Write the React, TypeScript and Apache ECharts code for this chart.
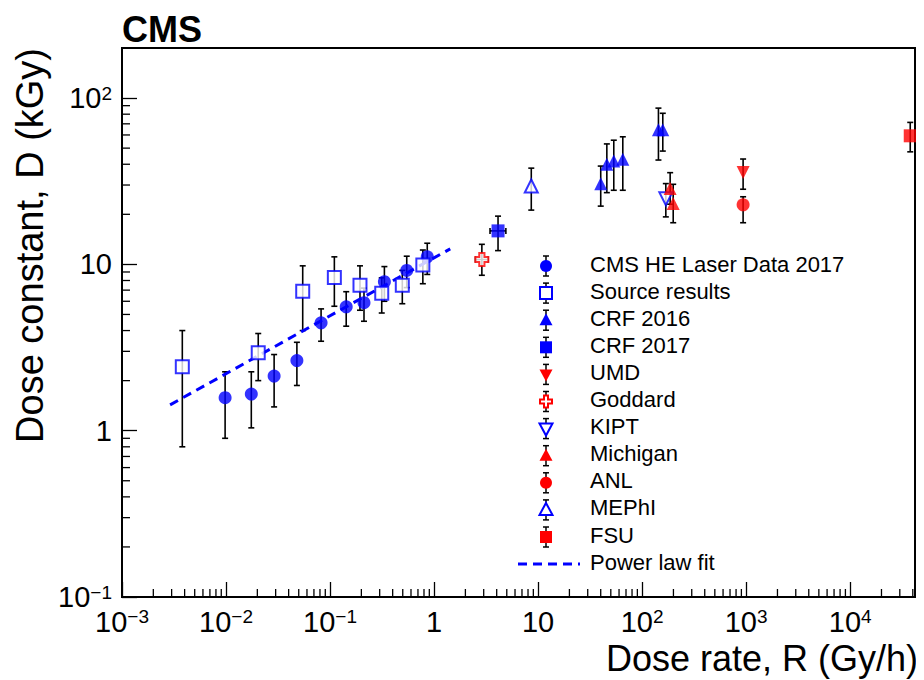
import React, { useEffect, useRef } from 'react';
import * as echarts from 'echarts';

// [rate, D, Dlo, Dhi, Rlo, Rhi]  (Rlo/Rhi missing => no x error)
const cmsHE = [
  [0.0098, 1.58, 0.9, 2.26], [0.0175, 1.66, 1.04, 2.26], [0.029, 2.13, 1.39, 2.87],
  [0.048, 2.64, 1.87, 3.4], [0.082, 4.45, 3.45, 5.4], [0.143, 5.56, 4.25, 6.85],
  [0.212, 5.88, 4.55, 7.2], [0.333, 7.87, 6.0, 9.7], [0.546, 9.2, 7.25, 11.2],
  [0.86, 11.1, 8.7, 13.4],
];
const source = [
  [0.0038, 2.42, 0.8, 4.0], [0.0204, 2.94, 2.0, 3.84], [0.0546, 6.9, 4.0, 9.8],
  [0.11, 8.35, 5.6, 11.1], [0.194, 7.5, 5.3, 9.8], [0.314, 6.7, 5.1, 8.3],
  [0.495, 7.5, 5.8, 9.2], [0.78, 9.9, 7.65, 12.2],
];
const crf2016 = [
  [40, 30.5, 22.4, 39], [45.8, 40, 27, 53], [53.4, 41.9, 27.9, 55.8],
  [65.2, 42.9, 27.9, 58.5], [143.5, 64.4, 42.4, 87], [158, 64.4, 48, 81],
];
const crf2017 = [[4.12, 15.9, 12.1, 19.5, 3.45, 4.9]];
const umd = [[935, 35.7, 28.3, 43]];
const goddard = [[2.88, 10.7, 8.6, 13.2, 2.5, 3.3]];
const kipt = [[169, 24.8, 19.3, 30.6]];
const michigan = [[186, 28.6, 23, 35.6], [199, 23.2, 17.8, 30.3]];
const anl = [[935, 22.8, 17.8, 25.5]];
const mephi = [[8.6, 29.6, 21.2, 37.9]];
const fsu = [[37800, 59.3, 47.5, 71.4]];
const fitLine = [[0.0029, 1.43], [1.43, 12.4]];

const xMinor = [
  0.002, 0.003, 0.004, 0.005, 0.006, 0.007, 0.008, 0.009,
  0.02, 0.03, 0.04, 0.05, 0.06, 0.07, 0.08, 0.09,
  0.2, 0.3, 0.4, 0.5, 0.6, 0.7, 0.8, 0.9,
  2, 3, 4, 5, 6, 7, 8, 9, 20, 30, 40, 50, 60, 70, 80, 90,
  200, 300, 400, 500, 600, 700, 800, 900, 2000, 3000, 4000, 5000, 6000, 7000, 8000, 9000,
  20000, 30000, 40000,
];
const yMinor = [
  0.2, 0.3, 0.4, 0.5, 0.6, 0.7, 0.8, 0.9, 2, 3, 4, 5, 6, 7, 8, 9,
  20, 30, 40, 50, 60, 70, 80, 90, 200,
];

const BLUE = '#0000ff';
const RED = '#ff0000';
const FONT = 'Liberation Sans, Arial, sans-serif';

const CROSS = 'path://M3,0h4v3h3v4h-3v3h-4v-3h-3v-4h3z';
const INV_TRI = 'path://M0,0L10,0L5,9Z';

const groups = [
  { name: 'CMS HE Laser Data 2017', data: cmsHE, symbol: 'circle', color: BLUE, open: false },
  { name: 'Source results', data: source, symbol: 'rect', color: BLUE, open: true },
  { name: 'CRF 2016', data: crf2016, symbol: 'triangle', color: BLUE, open: false },
  { name: 'CRF 2017', data: crf2017, symbol: 'rect', color: BLUE, open: false },
  { name: 'UMD', data: umd, symbol: INV_TRI, color: RED, open: false },
  { name: 'Goddard', data: goddard, symbol: CROSS, color: RED, open: true },
  { name: 'KIPT', data: kipt, symbol: INV_TRI, color: BLUE, open: true },
  { name: 'Michigan', data: michigan, symbol: 'triangle', color: RED, open: false },
  { name: 'ANL', data: anl, symbol: 'circle', color: RED, open: false },
  { name: 'MEPhI', data: mephi, symbol: 'triangle', color: BLUE, open: true },
  { name: 'FSU', data: fsu, symbol: 'rect', color: RED, open: false },
];

const sup = (n: string) => `{b|10}{s|${n}}`;
const powLabel = (v: number) => {
  const e = Math.round(Math.log10(v));
  if (e === 0) return '{b|1}';
  if (e === 1) return '{b|10}';
  return sup(e < 0 ? '\u2212' + -e : String(e));
};
const rich = {
  b: { fontSize: 29, fontFamily: FONT, color: '#000' },
  s: { fontSize: 19, fontFamily: FONT, color: '#000', verticalAlign: 'top', padding: [0, 0, 10, 0] },
};

const App = () => {
  const chartRef = useRef(null);

  useEffect(() => {
    const chartDom = chartRef.current;
    if (!chartDom) return;
    const myChart = echarts.init(chartDom, null, { renderer: 'svg' });

    const errorData: any[] = [];
    groups.forEach((g) => g.data.forEach((p: any) => errorData.push([p[0], p[1], p[2], p[3], p[4] ?? 0, p[5] ?? 0])));

    const errorSeries = {
      type: 'custom',
      z: 3,
      data: errorData,
      renderItem: (params: any, api: any) => {
        const x = api.value(0);
        const lo = api.coord([x, api.value(2)]);
        const hi = api.coord([x, api.value(3)]);
        const st = { stroke: '#000', lineWidth: 1.6 };
        const ch: any[] = [
          { type: 'line', shape: { x1: lo[0], y1: lo[1], x2: hi[0], y2: hi[1] }, style: st },
          { type: 'line', shape: { x1: lo[0] - 3, y1: lo[1], x2: lo[0] + 3, y2: lo[1] }, style: st },
          { type: 'line', shape: { x1: hi[0] - 3, y1: hi[1], x2: hi[0] + 3, y2: hi[1] }, style: st },
        ];
        if (api.value(4) > 0) {
          const l = api.coord([api.value(4), api.value(1)]);
          const r = api.coord([api.value(5), api.value(1)]);
          ch.push(
            { type: 'line', shape: { x1: l[0], y1: l[1], x2: r[0], y2: r[1] }, style: st },
            { type: 'line', shape: { x1: l[0], y1: l[1] - 3, x2: l[0], y2: l[1] + 3 }, style: st },
            { type: 'line', shape: { x1: r[0], y1: r[1] - 3, x2: r[0], y2: r[1] + 3 }, style: st },
          );
        }
        return { type: 'group', children: ch };
      },
    };

    const minorSeries = (vals: number[], axis: 'x' | 'y') => ({
      type: 'custom',
      z: 1,
      data: vals.map((v) => [v]),
      clip: false,
      renderItem: (params: any, api: any) => {
        const v = api.value(0);
        const p = axis === 'x' ? api.coord([v, 0.1]) : api.coord([0.001, v]);
        const shape = axis === 'x'
          ? { x1: p[0], y1: p[1], x2: p[0], y2: p[1] - 8 }
          : { x1: p[0], y1: p[1], x2: p[0] + 8, y2: p[1] };
        return { type: 'line', shape, style: { stroke: '#000', lineWidth: 1.3 } };
      },
    });

    const scatterSeries = groups.map((g) => ({
      name: g.name,
      type: 'scatter',
      z: 5,
      symbol: g.symbol,
      symbolSize: 13,
      data: g.data.map((p: any) => [p[0], p[1]]),
      itemStyle: g.open
        ? { color: '#fff', borderColor: g.color, borderWidth: 2 }
        : { color: g.color },
    }));

    // legend drawn by hand, ROOT-like (coords relative to the chart div, page offset 8px)
    const legendGraphics: any[] = [];
    const names = [...groups.map((g) => g.name), 'Power law fit'];
    names.forEach((name, i) => {
      const cy = 258 + i * 27.1;
      const cx = 538;
      legendGraphics.push({
        type: 'text', left: 582, top: cy - 13,
        style: { text: name, font: `22px ${FONT}`, fill: '#000' },
      });
      if (i === groups.length) {
        legendGraphics.push({
          type: 'line', shape: { x1: 510, y1: cy, x2: 572, y2: cy },
          style: { stroke: BLUE, lineWidth: 3, lineDash: [9, 6] },
        });
        return;
      }
      const g = groups[i];
      const st = { stroke: '#000', lineWidth: 1.5 };
      legendGraphics.push(
        { type: 'line', shape: { x1: cx, y1: cy - 10, x2: cx, y2: cy + 10 }, style: st },
        { type: 'line', shape: { x1: cx - 3, y1: cy - 10, x2: cx + 3, y2: cy - 10 }, style: st },
        { type: 'line', shape: { x1: cx - 3, y1: cy + 10, x2: cx + 3, y2: cy + 10 }, style: st },
      );
      const style = g.open
        ? { fill: '#fff', stroke: g.color, lineWidth: 2 }
        : { fill: g.color };
      let mk: any;
      if (g.symbol === 'circle') mk = { type: 'circle', shape: { cx, cy, r: 6 } };
      else if (g.symbol === 'rect') mk = { type: 'rect', shape: { x: cx - 6, y: cy - 6, width: 12, height: 12 } };
      else if (g.symbol === 'triangle') mk = { type: 'polygon', shape: { points: [[cx, cy - 7], [cx + 6.5, cy + 5], [cx - 6.5, cy + 5]] } };
      else if (g.symbol === INV_TRI) mk = { type: 'polygon', shape: { points: [[cx - 6.5, cy - 5], [cx + 6.5, cy - 5], [cx, cy + 7]] } };
      else mk = { type: 'polygon', shape: { points: [[cx - 2, cy - 6], [cx + 2, cy - 6], [cx + 2, cy - 2], [cx + 6, cy - 2], [cx + 6, cy + 2], [cx + 2, cy + 2], [cx + 2, cy + 6], [cx - 2, cy + 6], [cx - 2, cy + 2], [cx - 6, cy + 2], [cx - 6, cy - 2], [cx - 2, cy - 2]] } };
      mk.style = style;
      mk.z = 10;
      legendGraphics.push(mk);
    });

    const option = {
      animation: false,
      backgroundColor: '#fff',
      grid: { left: 114, right: 9, top: 40, bottom: 83, show: true, borderColor: '#000', borderWidth: 2, backgroundColor: 'transparent' },
      xAxis: {
        type: 'log', logBase: 10, min: 0.001, max: 42000, interval: 1,
        axisLine: { lineStyle: { color: '#000', width: 2 } },
        axisTick: { inside: true, length: 15, lineStyle: { color: '#000', width: 1.3 } },
        splitLine: { show: false },
        axisLabel: { showMaxLabel: false, margin: 10, formatter: powLabel, rich },
      },
      yAxis: {
        type: 'log', logBase: 10, min: 0.1, max: 200, interval: 1,
        axisLine: { lineStyle: { color: '#000', width: 2 } },
        axisTick: { inside: true, length: 15, lineStyle: { color: '#000', width: 1.3 } },
        splitLine: { show: false },
        axisLabel: { showMaxLabel: false, margin: 10, formatter: powLabel, rich },
      },
      graphic: [
        { type: 'text', left: 114, top: 3, style: { text: 'CMS', font: `bold 36px ${FONT}`, fill: '#000' } },
        { type: 'text', right: 6, top: 632, style: { text: 'Dose rate, R (Gy/h)', font: `36px ${FONT}`, fill: '#000' } },
        {
          type: 'text', x: 3, y: 40, rotation: Math.PI / 2,
          style: { text: 'Dose constant, D (kGy)', font: `38px ${FONT}`, fill: '#000', align: 'right', verticalAlign: 'top' },
        },
        ...legendGraphics,
      ],
      series: [
        minorSeries(xMinor, 'x'),
        minorSeries(yMinor, 'y'),
        {
          name: 'Power law fit', type: 'line', z: 4, symbol: 'none', data: fitLine,
          lineStyle: { color: BLUE, width: 3, type: [9, 6] },
        },
        errorSeries,
        ...scatterSeries,
      ],
    };

    myChart.setOption(option as any);
    return () => {
      myChart.dispose();
    };
  }, []);

  return <div ref={chartRef} style={{ width: '916px', height: '672px' }}></div>;
};

export default App;
